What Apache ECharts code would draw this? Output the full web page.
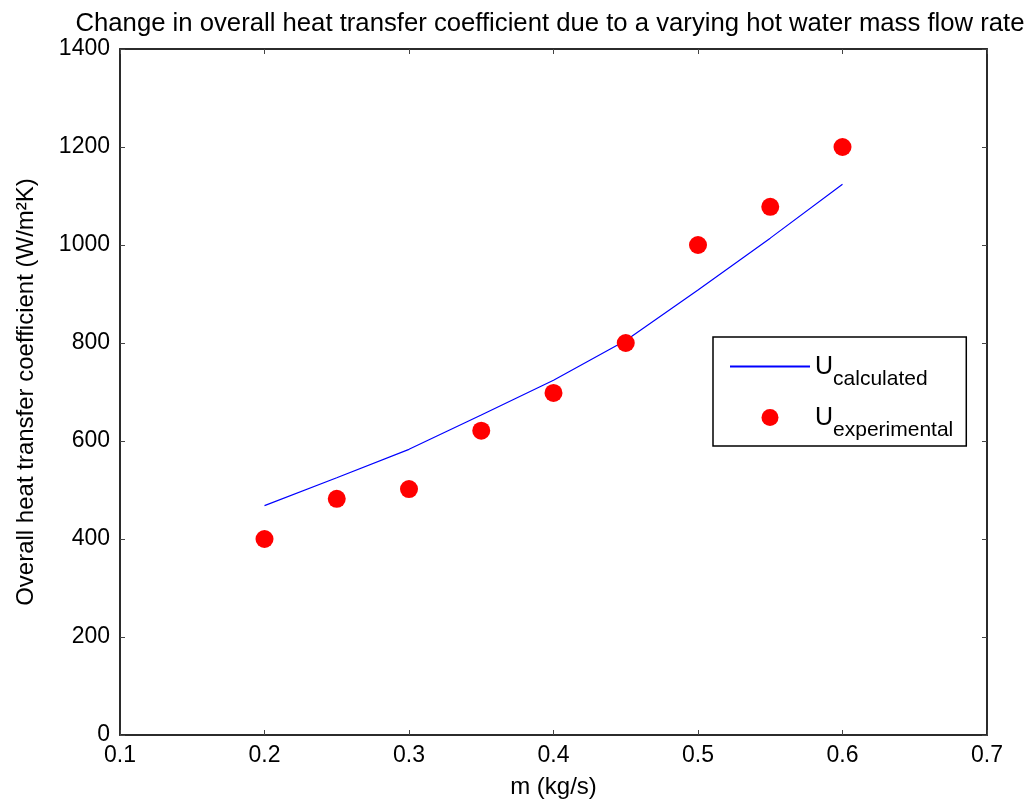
<!DOCTYPE html>
<html>
<head>
<meta charset="utf-8">
<script src="https://cdn.jsdelivr.net/npm/echarts@6/dist/echarts.min.js"></script>
<style>
  html, body { margin: 0; padding: 0; background: #fff; }
  #chart { width: 1030px; height: 805px; }
</style>
</head>
<body>
<div id="chart"></div>
<script>
const massFlow = [0.2, 0.25, 0.3, 0.35, 0.4, 0.45, 0.5, 0.55, 0.6];
const uCalculated = [468, 525, 583, 653, 724, 805, 908, 1014, 1124];
const uExperimental = [400, 482, 502, 621, 698, 800, 1000, 1078, 1200];

const xTicks = { min: 0.1, max: 0.7, interval: 0.1 };
const yTicks = { min: 0, max: 1400, interval: 200 };

const chart = echarts.init(document.getElementById("chart"));

const font = "'Liberation Sans', Arial, sans-serif";
const axisColor = "#2b2b2b";

const tickStyle = {
  show: true,
  inside: true,
  length: 5,
  lineStyle: { color: "#444", width: 1 },
};

const mirrorAxis = {
  axisLine: { show: true, onZero: false, lineStyle: { color: axisColor, width: 2 } },
  axisTick: tickStyle,
  axisLabel: { show: false },
  splitLine: { show: false },
};

const subLabel = (name) =>
  name === "calc" ? "{u|U}{s|calculated}" : "{u|U}{s|experimental}";

chart.setOption({
  animation: false,
  textStyle: { fontFamily: font },
  title: {
    text: "Change in overall heat transfer coefficient due to a varying hot water mass flow rate",
    left: 545,
    textAlign: "center",
    top: 6,
    textStyle: { fontFamily: font, fontSize: 25.7, fontWeight: "normal", color: "#000" },
  },
  grid: { left: 120, right: 43, top: 49, bottom: 70 },
  legend: {
    orient: "vertical",
    left: 713,
    top: 337,
    padding: [18, 13, 5, 16],
    itemGap: 16,
    itemWidth: 80,
    itemHeight: 17,
    backgroundColor: "#fff",
    borderColor: "#000",
    borderWidth: 1.5,
    formatter: subLabel,
    textStyle: {
      fontFamily: font,
      color: "#000",
      rich: {
        u: { fontSize: 25, fontFamily: font, color: "#000", verticalAlign: "bottom", padding: [12, 0, 10, 0] },
        s: { fontSize: 21, fontFamily: font, color: "#000", verticalAlign: "bottom" },
      },
    },
    data: [{ name: "calc", itemStyle: { opacity: 0 } }, "exp"],
  },
  xAxis: [
    {
      type: "value",
      position: "bottom",
      min: xTicks.min,
      max: xTicks.max,
      interval: xTicks.interval,
      name: "m (kg/s)",
      nameLocation: "middle",
      nameGap: 40,
      nameTextStyle: { fontFamily: font, fontSize: 24, color: "#000" },
      axisLine: { show: true, onZero: false, lineStyle: { color: axisColor, width: 2 } },
      axisTick: tickStyle,
      axisLabel: {
        color: "#000",
        fontSize: 23,
        fontFamily: font,
        margin: 9,
        formatter: (v) => v.toFixed(1),
      },
      splitLine: { show: false },
    },
    Object.assign({
      type: "value",
      position: "top",
      min: xTicks.min,
      max: xTicks.max,
      interval: xTicks.interval,
    }, mirrorAxis),
  ],
  yAxis: [
    {
      type: "value",
      position: "left",
      min: yTicks.min,
      max: yTicks.max,
      interval: yTicks.interval,
      name: "Overall heat transfer coefficient (W/m²K)",
      nameLocation: "middle",
      nameGap: 82,
      nameTextStyle: { fontFamily: font, fontSize: 24, color: "#000" },
      axisLine: { show: true, onZero: false, lineStyle: { color: axisColor, width: 2 } },
      axisTick: tickStyle,
      axisLabel: {
        color: "#000",
        fontSize: 23,
        fontFamily: font,
        margin: 10,
        formatter: (v) => String(v),
      },
      splitLine: { show: false },
    },
    Object.assign({
      type: "value",
      position: "right",
      min: yTicks.min,
      max: yTicks.max,
      interval: yTicks.interval,
    }, mirrorAxis),
  ],
  series: [
    {
      name: "calc",
      type: "line",
      data: massFlow.map((x, i) => [x, uCalculated[i]]),
      symbol: "none",
      lineStyle: { color: "#0000ff", width: 1.2 },
      itemStyle: { color: "#0000ff" },
      z: 2,
    },
    {
      name: "exp",
      type: "scatter",
      data: massFlow.map((x, i) => [x, uExperimental[i]]),
      symbol: "circle",
      symbolSize: 18,
      itemStyle: { color: "#ff0000", opacity: 1 },
      z: 3,
    },
  ],
});
</script>
</body>
</html>
